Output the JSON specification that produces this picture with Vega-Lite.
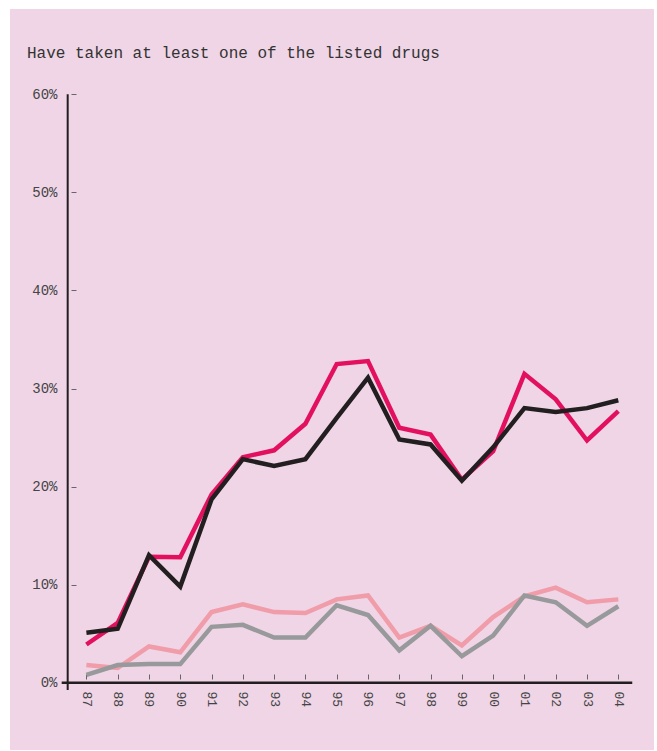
{
  "$schema": "https://vega.github.io/schema/vega-lite/v6.json",
  "autosize": {"type": "none"},
  "padding": {"left": 10, "top": 9, "right": 3, "bottom": 1},
  "width": 644,
  "height": 741,
  "background": "#ffffff",
  "config": {
    "view": {"fill": "#efd5e6", "stroke": null},
    "axis": {"labelOverlap": false, "labelBound": false, "labelFlush": false}
  },
  "title": {
    "text": "Have taken at least one of the listed drugs",
    "anchor": "start",
    "frame": "group",
    "orient": "top",
    "offset": -65,
    "dx": 17,
    "baseline": "alphabetic",
    "font": "Liberation Mono",
    "fontSize": 16,
    "fontWeight": "normal",
    "color": "#333333"
  },
  "datasets": {
    "series": [
      {"year": 1987, "series": "Series A", "value": 1.8},
      {"year": 1988, "series": "Series A", "value": 1.5},
      {"year": 1989, "series": "Series A", "value": 3.7},
      {"year": 1990, "series": "Series A", "value": 3.1},
      {"year": 1991, "series": "Series A", "value": 7.2},
      {"year": 1992, "series": "Series A", "value": 8.0},
      {"year": 1993, "series": "Series A", "value": 7.2},
      {"year": 1994, "series": "Series A", "value": 7.1},
      {"year": 1995, "series": "Series A", "value": 8.5},
      {"year": 1996, "series": "Series A", "value": 8.9},
      {"year": 1997, "series": "Series A", "value": 4.6},
      {"year": 1998, "series": "Series A", "value": 5.8},
      {"year": 1999, "series": "Series A", "value": 3.8},
      {"year": 2000, "series": "Series A", "value": 6.7},
      {"year": 2001, "series": "Series A", "value": 8.8},
      {"year": 2002, "series": "Series A", "value": 9.7},
      {"year": 2003, "series": "Series A", "value": 8.2},
      {"year": 2004, "series": "Series A", "value": 8.5},
      {"year": 1987, "series": "Series B", "value": 0.8},
      {"year": 1988, "series": "Series B", "value": 1.8},
      {"year": 1989, "series": "Series B", "value": 1.9},
      {"year": 1990, "series": "Series B", "value": 1.9},
      {"year": 1991, "series": "Series B", "value": 5.7},
      {"year": 1992, "series": "Series B", "value": 5.9},
      {"year": 1993, "series": "Series B", "value": 4.6},
      {"year": 1994, "series": "Series B", "value": 4.6},
      {"year": 1995, "series": "Series B", "value": 7.9},
      {"year": 1996, "series": "Series B", "value": 6.9},
      {"year": 1997, "series": "Series B", "value": 3.3},
      {"year": 1998, "series": "Series B", "value": 5.8},
      {"year": 1999, "series": "Series B", "value": 2.7},
      {"year": 2000, "series": "Series B", "value": 4.8},
      {"year": 2001, "series": "Series B", "value": 8.9},
      {"year": 2002, "series": "Series B", "value": 8.2},
      {"year": 2003, "series": "Series B", "value": 5.8},
      {"year": 2004, "series": "Series B", "value": 7.8},
      {"year": 1987, "series": "Series C", "value": 3.9},
      {"year": 1988, "series": "Series C", "value": 6.1},
      {"year": 1989, "series": "Series C", "value": 12.85},
      {"year": 1990, "series": "Series C", "value": 12.8},
      {"year": 1991, "series": "Series C", "value": 19.2},
      {"year": 1992, "series": "Series C", "value": 23.0},
      {"year": 1993, "series": "Series C", "value": 23.7},
      {"year": 1994, "series": "Series C", "value": 26.4},
      {"year": 1995, "series": "Series C", "value": 32.5},
      {"year": 1996, "series": "Series C", "value": 32.8},
      {"year": 1997, "series": "Series C", "value": 26.0},
      {"year": 1998, "series": "Series C", "value": 25.3},
      {"year": 1999, "series": "Series C", "value": 20.7},
      {"year": 2000, "series": "Series C", "value": 23.6},
      {"year": 2001, "series": "Series C", "value": 31.5},
      {"year": 2002, "series": "Series C", "value": 28.9},
      {"year": 2003, "series": "Series C", "value": 24.7},
      {"year": 2004, "series": "Series C", "value": 27.7},
      {"year": 1987, "series": "Series D", "value": 5.1},
      {"year": 1988, "series": "Series D", "value": 5.5},
      {"year": 1989, "series": "Series D", "value": 13.0},
      {"year": 1990, "series": "Series D", "value": 9.8},
      {"year": 1991, "series": "Series D", "value": 18.7},
      {"year": 1992, "series": "Series D", "value": 22.8},
      {"year": 1993, "series": "Series D", "value": 22.1},
      {"year": 1994, "series": "Series D", "value": 22.8},
      {"year": 1995, "series": "Series D", "value": 27.0},
      {"year": 1996, "series": "Series D", "value": 31.1},
      {"year": 1997, "series": "Series D", "value": 24.8},
      {"year": 1998, "series": "Series D", "value": 24.3},
      {"year": 1999, "series": "Series D", "value": 20.6},
      {"year": 2000, "series": "Series D", "value": 24.0},
      {"year": 2001, "series": "Series D", "value": 28.0},
      {"year": 2002, "series": "Series D", "value": 27.6},
      {"year": 2003, "series": "Series D", "value": 28.0},
      {"year": 2004, "series": "Series D", "value": 28.8}
    ],
    "vaxis": [{"x": 1986.402, "y": -0.744, "y2": 60}],
    "haxis": [{"x": 1986.21, "x2": 2004.446, "y": 0}]
  },
  "layer": [
    {
      "data": {"name": "vaxis"},
      "mark": {"type": "rule", "color": "#231f20", "strokeWidth": 2},
      "encoding": {
        "x": {
          "field": "x",
          "type": "quantitative",
          "scale": {"domain": [1984.558, 2005.141], "nice": false, "zero": false},
          "axis": {
            "orient": "bottom",
            "offset": -76,
            "domain": false,
            "grid": false,
            "values": [1987, 1988, 1989, 1990, 1991, 1992, 1993, 1994, 1995, 1996, 1997, 1998, 1999, 2000, 2001, 2002, 2003, 2004],
            "tickCount": 40,
            "labelExpr": "format(datum.value % 100, '02d')",
            "labelOverlap": false,
            "tickSize": 5,
            "tickColor": "#666666",
            "tickWidth": 1,
            "labelAngle": 90,
            "labelAlign": "left",
            "labelBaseline": "middle",
            "labelPadding": 12,
            "labelFont": "Liberation Mono",
            "labelFontSize": 13,
            "labelColor": "#444444",
            "title": null
          }
        },
        "y": {
          "field": "y",
          "type": "quantitative",
          "scale": {"domain": [-6.86, 68.7], "nice": false, "zero": false},
          "axis": {
            "orient": "left",
            "offset": -61,
            "domain": false,
            "grid": false,
            "values": [0, 10, 20, 30, 40, 50, 60],
            "tickCount": 20,
            "labelExpr": "datum.value + '%'",
            "labelOverlap": false,
            "tickSize": -5,
            "tickColor": "#666666",
            "tickWidth": 1,
            "labelPadding": 19,
            "labelFont": "Liberation Mono",
            "labelFontSize": 14,
            "labelColor": "#444444",
            "title": null
          }
        },
        "y2": {"field": "y2"}
      }
    },
    {
      "data": {"name": "haxis"},
      "mark": {"type": "rule", "color": "#231f20", "strokeWidth": 2.5},
      "encoding": {
        "x": {"field": "x", "type": "quantitative"},
        "x2": {"field": "x2"},
        "y": {"field": "y", "type": "quantitative"}
      }
    },
    {
      "data": {"name": "series"},
      "mark": {"type": "line", "strokeWidth": 4.5, "strokeCap": "butt", "strokeJoin": "miter"},
      "encoding": {
        "x": {"field": "year", "type": "quantitative"},
        "y": {"field": "value", "type": "quantitative"},
        "color": {
          "field": "series",
          "type": "nominal",
          "scale": {
            "domain": ["Series A", "Series B", "Series C", "Series D"],
            "range": ["#f09ca9", "#98999b", "#e3105f", "#231f20"]
          },
          "legend": null
        }
      }
    }
  ]
}
